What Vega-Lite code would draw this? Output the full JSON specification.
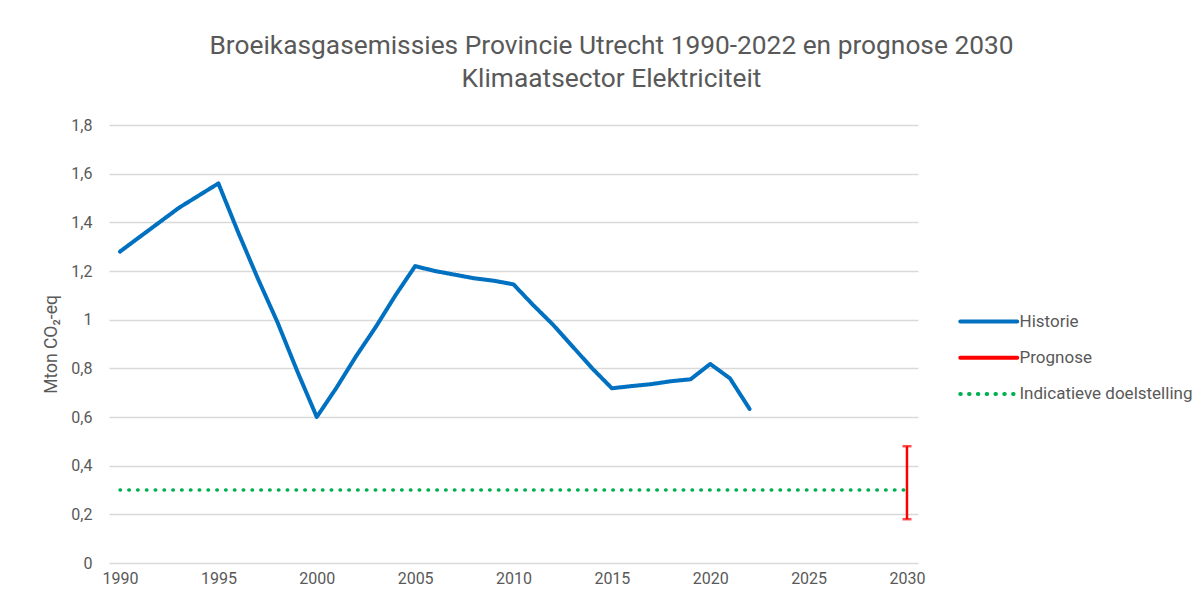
{
  "$schema": "https://vega.github.io/schema/vega-lite/v6.json",
  "width": 809,
  "height": 438,
  "autosize": {"type": "none"},
  "padding": {"left": 109, "top": 125, "right": 285, "bottom": 40},
  "background": "white",
  "title": {
    "text": ["Broeikasgasemissies Provincie Utrecht 1990-2022 en prognose 2030", "Klimaatsector Elektriciteit"],
    "font": "Roboto",
    "fontSize": 26.3,
    "fontWeight": "normal",
    "color": "#595959",
    "lineHeight": 33,
    "anchor": "middle",
    "frame": "group",
    "dx": 98,
    "offset": 25
  },
  "config": {
    "view": {"stroke": null},
    "font": "Roboto",
    "axis": {
      "labelFont": "Roboto",
      "labelColor": "#595959",
      "labelFontSize": 16,
      "titleFont": "Roboto",
      "titleColor": "#595959",
      "titleFontWeight": "normal",
      "titleFontSize": 17.5,
      "ticks": false,
      "domain": false,
      "gridColor": "#d9d9d9",
      "gridWidth": 1.3
    }
  },
  "datasets": {
    "historie": [
      {"jaar": 1990, "waarde": 1.28, "reeks": "Historie"},
      {"jaar": 1991, "waarde": 1.34, "reeks": "Historie"},
      {"jaar": 1992, "waarde": 1.40, "reeks": "Historie"},
      {"jaar": 1993, "waarde": 1.46, "reeks": "Historie"},
      {"jaar": 1994, "waarde": 1.51, "reeks": "Historie"},
      {"jaar": 1995, "waarde": 1.56, "reeks": "Historie"},
      {"jaar": 1996, "waarde": 1.36, "reeks": "Historie"},
      {"jaar": 1997, "waarde": 1.17, "reeks": "Historie"},
      {"jaar": 1998, "waarde": 0.99, "reeks": "Historie"},
      {"jaar": 1999, "waarde": 0.79, "reeks": "Historie"},
      {"jaar": 2000, "waarde": 0.60, "reeks": "Historie"},
      {"jaar": 2001, "waarde": 0.72, "reeks": "Historie"},
      {"jaar": 2002, "waarde": 0.85, "reeks": "Historie"},
      {"jaar": 2003, "waarde": 0.97, "reeks": "Historie"},
      {"jaar": 2004, "waarde": 1.10, "reeks": "Historie"},
      {"jaar": 2005, "waarde": 1.22, "reeks": "Historie"},
      {"jaar": 2006, "waarde": 1.20, "reeks": "Historie"},
      {"jaar": 2007, "waarde": 1.185, "reeks": "Historie"},
      {"jaar": 2008, "waarde": 1.17, "reeks": "Historie"},
      {"jaar": 2009, "waarde": 1.16, "reeks": "Historie"},
      {"jaar": 2010, "waarde": 1.145, "reeks": "Historie"},
      {"jaar": 2011, "waarde": 1.06, "reeks": "Historie"},
      {"jaar": 2012, "waarde": 0.98, "reeks": "Historie"},
      {"jaar": 2013, "waarde": 0.89, "reeks": "Historie"},
      {"jaar": 2014, "waarde": 0.80, "reeks": "Historie"},
      {"jaar": 2015, "waarde": 0.718, "reeks": "Historie"},
      {"jaar": 2016, "waarde": 0.727, "reeks": "Historie"},
      {"jaar": 2017, "waarde": 0.735, "reeks": "Historie"},
      {"jaar": 2018, "waarde": 0.747, "reeks": "Historie"},
      {"jaar": 2019, "waarde": 0.755, "reeks": "Historie"},
      {"jaar": 2020, "waarde": 0.818, "reeks": "Historie"},
      {"jaar": 2021, "waarde": 0.759, "reeks": "Historie"},
      {"jaar": 2022, "waarde": 0.633, "reeks": "Historie"}
    ],
    "doel": [
      {"jaar": 1990, "waarde": 0.30, "reeks": "Indicatieve doelstelling"},
      {"jaar": 2030, "waarde": 0.30, "reeks": "Indicatieve doelstelling"}
    ],
    "prognose": [
      {"jaar": 2030, "laag": 0.18, "hoog": 0.48, "reeks": "Prognose"}
    ]
  },
  "encoding": {
    "x": {
      "field": "jaar",
      "type": "quantitative",
      "scale": {"domain": [1989.44, 2030.56], "nice": false, "zero": false},
      "axis": {"title": null, "values": [1990, 1995, 2000, 2005, 2010, 2015, 2020, 2025, 2030], "format": "d", "grid": false, "labelPadding": 7}
    }
  },
  "layer": [
    {
      "data": {"name": "doel"},
      "mark": {"type": "line", "strokeWidth": 3.5, "strokeCap": "round"},
      "encoding": {
        "y": {
          "field": "waarde",
          "type": "quantitative",
          "scale": {"domain": [0, 1.8], "nice": false},
          "axis": {
            "title": "Mton CO₂-eq",
            "values": [0, 0.2, 0.4, 0.6, 0.8, 1, 1.2, 1.4, 1.6, 1.8],
            "labelExpr": "replace(format(datum.value, '~g'), '.', ',')",
            "grid": true,
            "labelPadding": 17,
            "titlePadding": 10
          }
        },
        "color": {
          "field": "reeks",
          "type": "nominal",
          "scale": {"domain": ["Historie", "Prognose", "Indicatieve doelstelling"], "range": ["#0070C0", "#FF0000", "#00B050"]},
          "legend": {
            "title": null,
            "orient": "none",
            "legendX": 849,
            "legendY": 180,
            "symbolType": "M-1,0H3",
            "symbolSize": 812,
            "symbolStrokeWidth": 4,
            "labelFont": "Roboto",
            "labelFontSize": 17,
            "labelColor": "#595959",
            "labelLimit": 400,
            "rowPadding": 11.3,
            "labelOffset": 28.5,
            "encode": {"symbols": {"update": {"strokeCap": {"value": "round"}}}}
          }
        },
        "strokeDash": {
          "field": "reeks",
          "type": "nominal",
          "scale": {"domain": ["Historie", "Prognose", "Indicatieve doelstelling"], "range": [[1, 0], [1, 0], [0.5, 8.3]]},
          "legend": {
            "title": null,
            "orient": "none",
            "legendX": 849,
            "legendY": 180,
            "symbolType": "M-1,0H3",
            "symbolSize": 812,
            "symbolStrokeWidth": 4,
            "labelFont": "Roboto",
            "labelFontSize": 17,
            "labelColor": "#595959",
            "labelLimit": 400,
            "rowPadding": 11.3,
            "labelOffset": 28.5,
            "encode": {"symbols": {"update": {"strokeCap": {"value": "round"}}}}
          }
        }
      }
    },
    {
      "data": {"name": "historie"},
      "mark": {"type": "line", "strokeWidth": 4, "strokeJoin": "round", "strokeCap": "round"},
      "encoding": {
        "y": {"field": "waarde", "type": "quantitative"},
        "color": {"field": "reeks", "type": "nominal"},
        "strokeDash": {"field": "reeks", "type": "nominal"}
      }
    },
    {
      "data": {"name": "prognose"},
      "mark": {"type": "rule", "strokeWidth": 2.5},
      "encoding": {
        "y": {"field": "laag", "type": "quantitative"},
        "y2": {"field": "hoog"},
        "color": {"field": "reeks", "type": "nominal"}
      }
    },
    {
      "data": {"name": "prognose"},
      "mark": {"type": "tick", "orient": "horizontal", "size": 9, "thickness": 2.5},
      "encoding": {
        "y": {"field": "laag", "type": "quantitative"},
        "color": {"field": "reeks", "type": "nominal"}
      }
    },
    {
      "data": {"name": "prognose"},
      "mark": {"type": "tick", "orient": "horizontal", "size": 9, "thickness": 2.5},
      "encoding": {
        "y": {"field": "hoog", "type": "quantitative"},
        "color": {"field": "reeks", "type": "nominal"}
      }
    }
  ]
}
